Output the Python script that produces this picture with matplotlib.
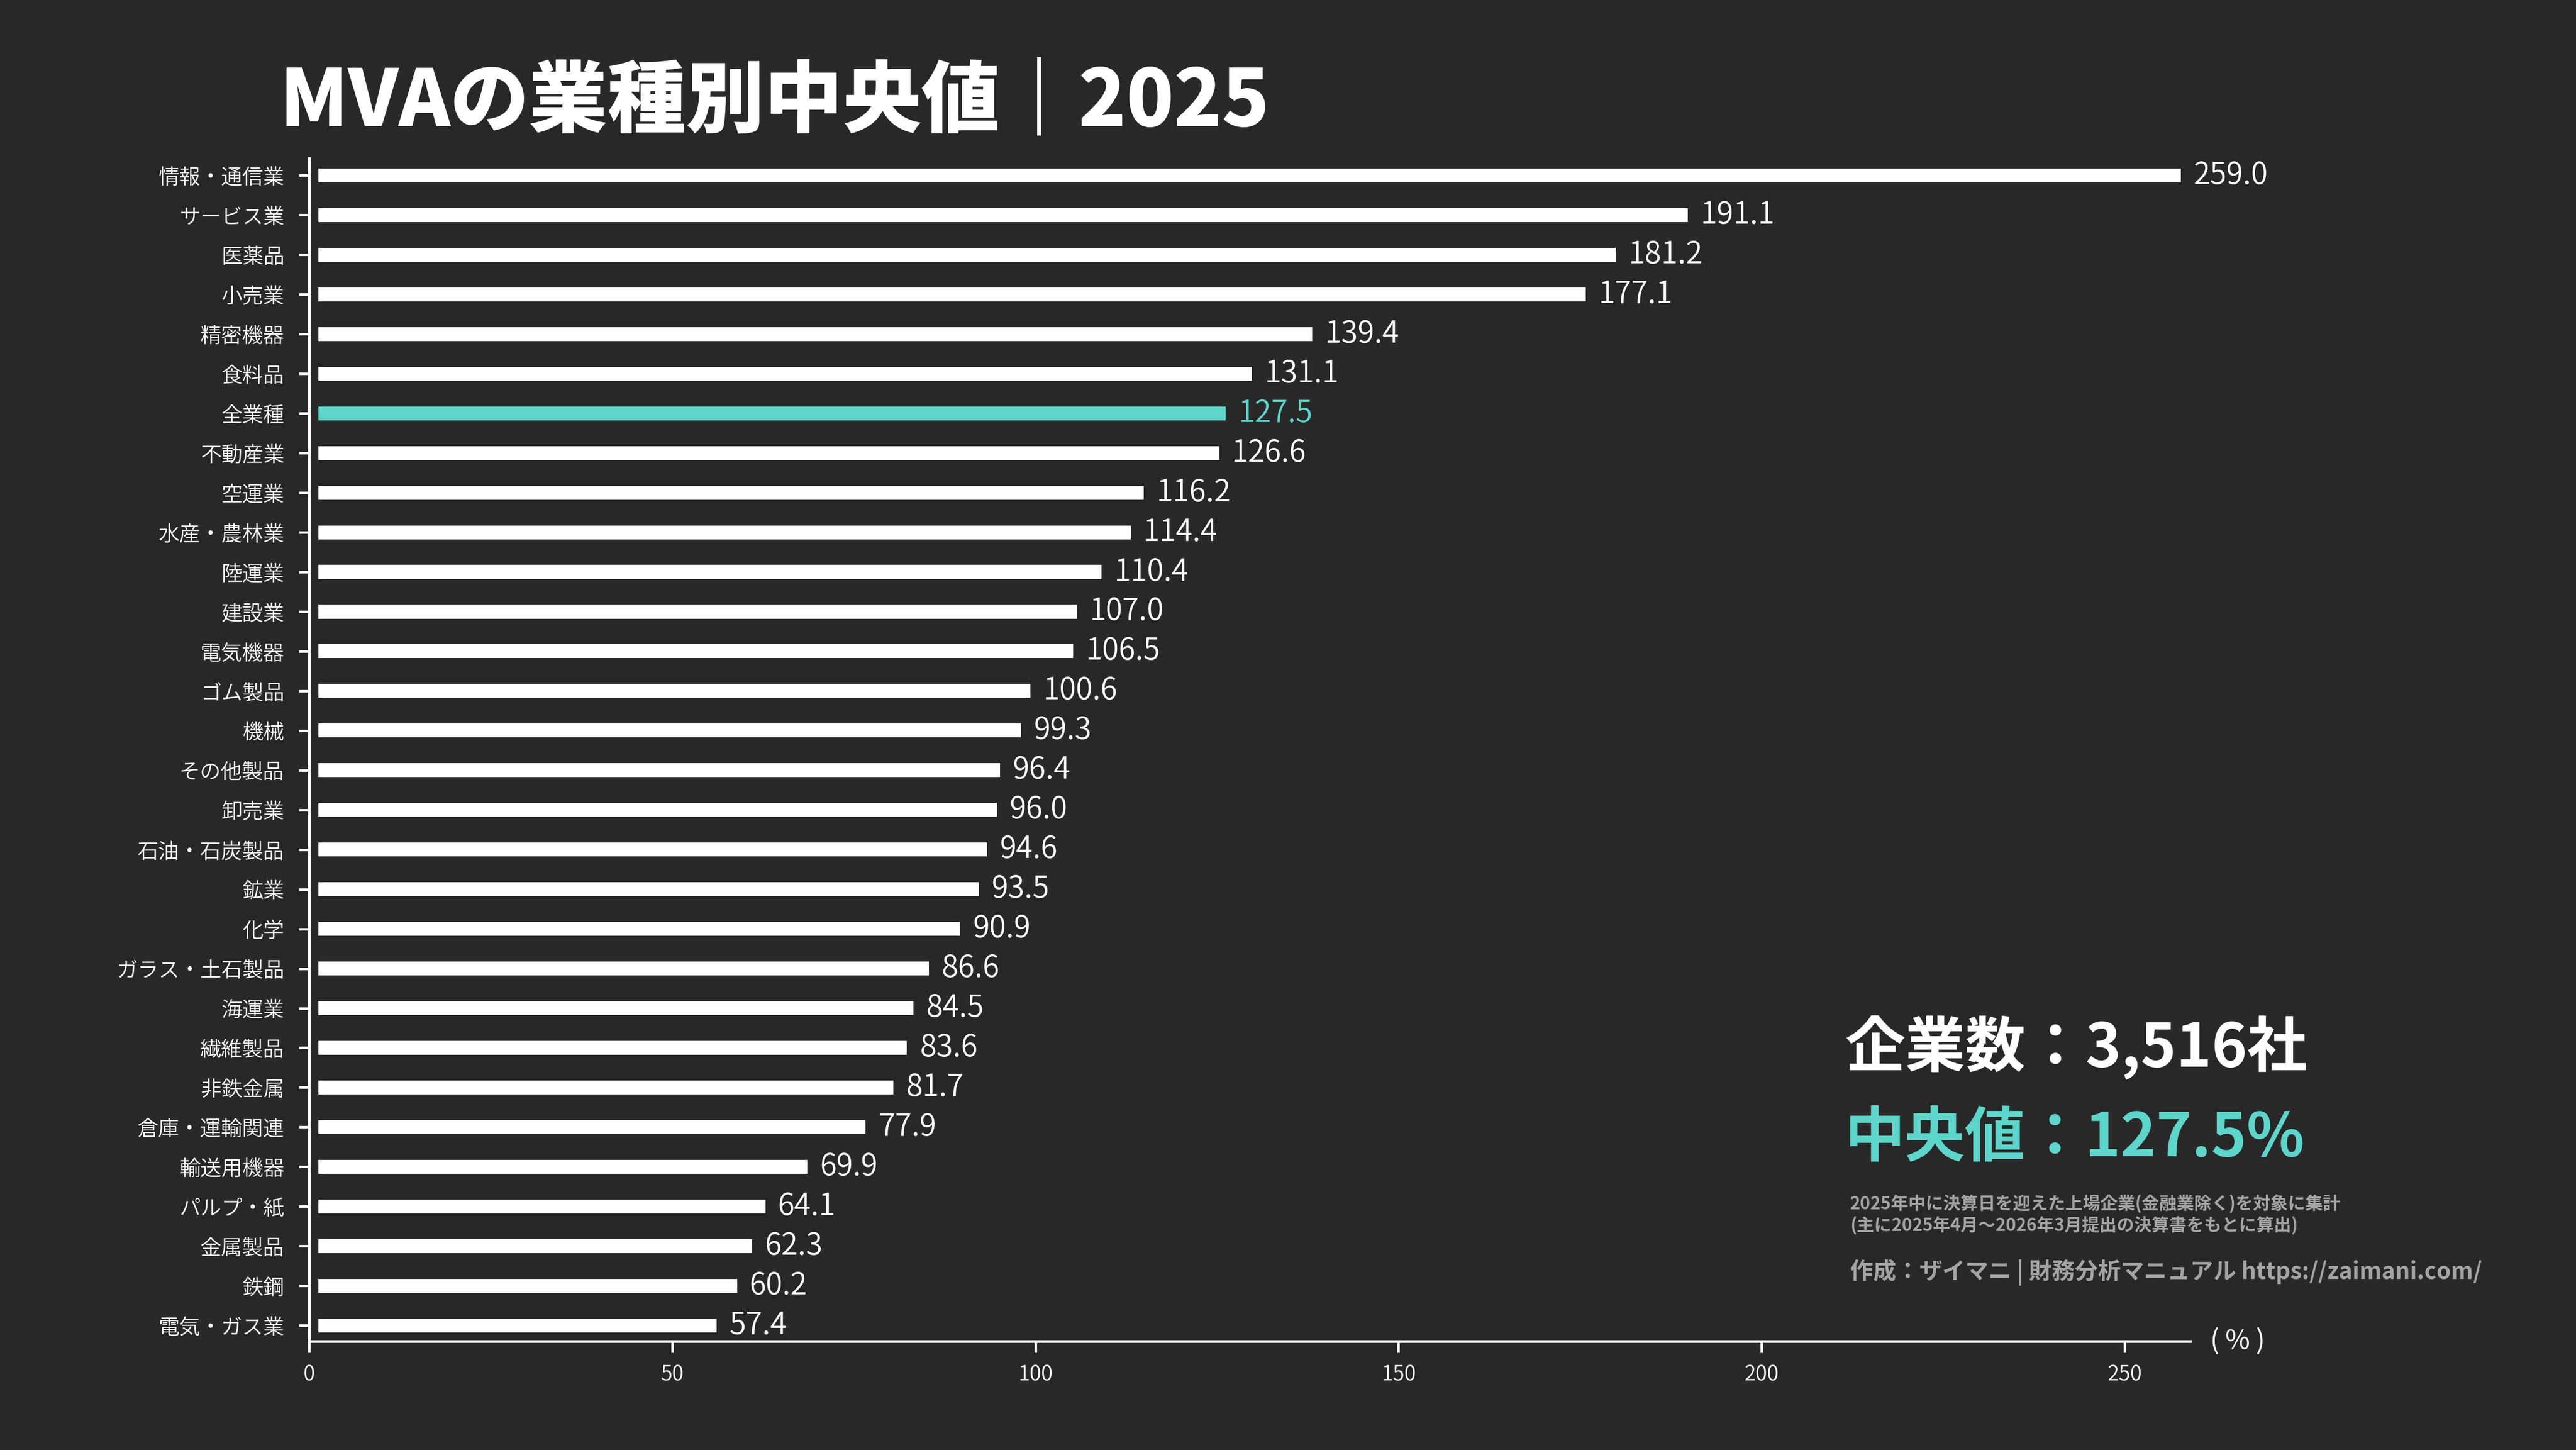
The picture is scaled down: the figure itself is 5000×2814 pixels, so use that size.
import matplotlib
matplotlib.use("Agg")
import matplotlib.pyplot as plt

plt.rcParams['font.family'] = ['Noto Sans CJK JP', 'DejaVu Sans']

industries = ['情報・通信業', 'サービス業', '医薬品', '小売業', '精密機器', '食料品', '全業種',
              '不動産業', '空運業', '水産・農林業', '陸運業', '建設業', '電気機器', 'ゴム製品',
              '機械', 'その他製品', '卸売業', '石油・石炭製品', '鉱業', '化学',
              'ガラス・土石製品', '海運業', '繊維製品', '非鉄金属', '倉庫・運輸関連',
              '輸送用機器', 'パルプ・紙', '金属製品', '鉄鋼', '電気・ガス業']
mva_median = [259.0, 191.1, 181.2, 177.1, 139.4, 131.1, 127.5,
              126.6, 116.2, 114.4, 110.4, 107.0, 106.5, 100.6,
              99.3, 96.4, 96.0, 94.6, 93.5, 90.9,
              86.6, 84.5, 83.6, 81.7, 77.9,
              69.9, 64.1, 62.3, 60.2, 57.4]
highlight = '全業種'
x_ticks = [0, 50, 100, 150, 200, 250]

bg = '#282828'
teal = '#5dd5ca'
gray = '#a3a3a3'

fig = plt.figure(figsize=(16, 2814 / 312.5), dpi=312.5, facecolor=bg)
ax = fig.add_axes([0.12, 0.0750, 0.7302, 0.8159])
ax.set_facecolor(bg)

colors = [teal if name == highlight else 'white' for name in industries]
ypos = list(range(len(industries)))
ax.barh(ypos, mva_median, height=0.82, color=colors, edgecolor=bg, linewidth=8.3)

for y, v, c in zip(ypos, mva_median, colors):
    ax.annotate(f'{v:.1f}', (v, y), xytext=(1.5, 0), textcoords='offset points',
                ha='left', va='center', fontsize=13.5, fontweight=350, color=c)

ax.set_xlim(0, max(mva_median))
ax.set_ylim(29.40, -0.435)
ax.set_yticks(ypos)
ax.set_yticklabels(industries, fontsize=9.4, color='white', fontweight=350)
ax.set_xticks(x_ticks)
ax.set_xticklabels([str(t) for t in x_ticks], fontsize=9.4, color='white', fontweight=350)
ax.tick_params(axis='y', length=4.6, width=1.1, color='white', pad=6.5)
ax.tick_params(axis='x', length=5, width=1.1, color='white', pad=5)

for s in ['top', 'right']:
    ax.spines[s].set_visible(False)
for s in ['left', 'bottom']:
    ax.spines[s].set_color('white')
    ax.spines[s].set_linewidth(1.2)

fig.text(0.858, 0.075, '( % )', fontsize=12, color='white', ha='left', va='center')

fig.text(0.1085, 0.913, 'MVAの業種別中央値｜2025', fontsize=35.1, fontweight='heavy',
         color='white', ha='left', va='baseline')

fig.text(0.7162, 0.2647, '企業数：3,516社', fontsize=26.9, fontweight='bold',
         color='white', ha='left', va='baseline')
fig.text(0.7162, 0.2029, '中央値：127.5%', fontsize=26.9, fontweight='bold',
         color=teal, ha='left', va='baseline')
fig.text(0.7182, 0.1660, '2025年中に決算日を迎えた上場企業(金融業除く)を対象に集計',
         fontsize=7.8, fontweight='bold', color=gray, ha='left', va='baseline')
fig.text(0.7182, 0.1510, '(主に2025年4月～2026年3月提出の決算書をもとに算出)',
         fontsize=7.8, fontweight='bold', color=gray, ha='left', va='baseline')
fig.text(0.7182, 0.1180, '作成：ザイマニ | 財務分析マニュアル https://zaimani.com/',
         fontsize=10.3, fontweight='bold', color=gray, ha='left', va='baseline')

fig.savefig('out.png', dpi=312.5, facecolor=bg)
